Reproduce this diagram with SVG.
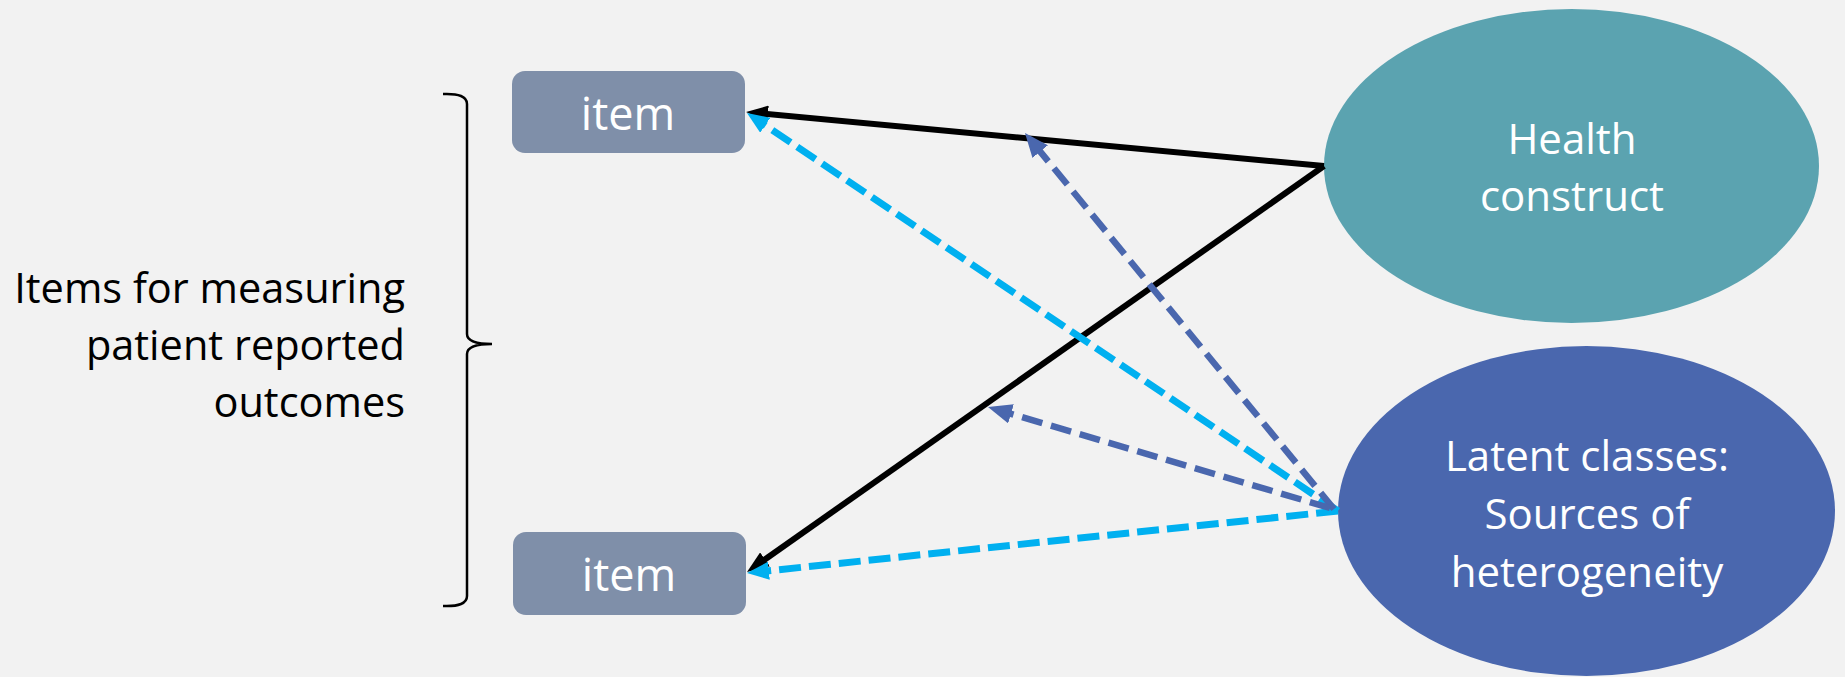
<svg xmlns="http://www.w3.org/2000/svg" width="1845" height="677" viewBox="0 0 1845 677">
  <style>
    .lbl { font-family: "Open Sans", "Liberation Sans", sans-serif; }
    .white { fill: #ffffff; text-anchor: middle; }
    .item-box { fill: #7F8FA9; }
    .solid { stroke: #000000; stroke-width: 6; fill: none; }
    .cyan { stroke: #00B0F0; stroke-width: 7; fill: none; stroke-dasharray: 22 8; }
    .blue { stroke: #4A67AE; stroke-width: 6.5; fill: none; stroke-dasharray: 21 9; }
  </style>
  <defs>
    <marker id="arrow-black" viewBox="0 0 22 17" refX="11" refY="8.5" markerWidth="22" markerHeight="17" markerUnits="userSpaceOnUse" orient="auto">
      <path d="M0,0 L22,8.5 L0,17 Z" fill="#000000"/>
    </marker>
    <marker id="arrow-cyan" viewBox="0 0 22 18" refX="11" refY="9" markerWidth="22" markerHeight="18" markerUnits="userSpaceOnUse" orient="auto">
      <path d="M0,0 L22,9 L0,18 Z" fill="#00B0F0"/>
    </marker>
    <marker id="arrow-blue" viewBox="0 0 24 20" refX="12" refY="10" markerWidth="24" markerHeight="20" markerUnits="userSpaceOnUse" orient="auto">
      <path d="M0,0 L24,10 L0,20 Z" fill="#4A67AE"/>
    </marker>
  </defs>

  <rect x="0" y="0" width="1845" height="677" fill="#F2F2F2"/>

  <!-- group label with brace -->
  <g id="items-label">
    <text class="lbl" font-size="41.5" fill="#000000" text-anchor="end"><tspan x="405" y="303">Items for measuring</tspan><tspan x="405" y="360">patient reported</tspan><tspan x="405" y="417">outcomes</tspan></text>
    <path d="M443,94 Q467,93 467,104 L467,334 Q467,344 492,344 Q467,344 467,354 L467,596 Q467,607 443,606" fill="none" stroke="#000000" stroke-width="2.5"/>
  </g>

  <g id="item-top">
    <rect class="item-box" x="512" y="71" width="233" height="82" rx="13"/>
    <text class="lbl white" x="628" y="130" font-size="45">item</text>
  </g>

  <g id="item-bottom">
    <rect class="item-box" x="513" y="532" width="233" height="83" rx="13"/>
    <text class="lbl white" x="629" y="591" font-size="45">item</text>
  </g>

  <g id="health-construct">
    <ellipse cx="1571.5" cy="166" rx="247.5" ry="157" fill="#5BA3B0"/>
    <text class="lbl white" font-size="42"><tspan x="1572" y="154">Health</tspan><tspan x="1572" y="211">construct</tspan></text>
  </g>

  <g id="latent-classes">
    <ellipse cx="1586.5" cy="511" rx="248.5" ry="165" fill="#4A67AE"/>
    <text class="lbl white" font-size="42"><tspan x="1587" y="471">Latent classes:</tspan><tspan x="1587" y="529">Sources of</tspan><tspan x="1587" y="587">heterogeneity</tspan></text>
  </g>

  <g id="connectors">
    <line class="solid" x1="1324" y1="166" x2="757" y2="113" marker-end="url(#arrow-black)"/>
    <line class="solid" x1="1324" y1="166" x2="756" y2="565.7" marker-end="url(#arrow-black)"/>
    <line class="cyan" x1="1338" y1="511" x2="756.1" y2="119.1" marker-end="url(#arrow-cyan)"/>
    <line class="cyan" x1="1338" y1="511" x2="757.9" y2="571.9" marker-end="url(#arrow-cyan)"/>
    <line class="blue" x1="1334" y1="509" x2="1032.6" y2="142.3" marker-end="url(#arrow-blue)"/>
    <line class="blue" x1="1330" y1="508" x2="999.5" y2="410.4" marker-end="url(#arrow-blue)"/>
  </g>
</svg>
